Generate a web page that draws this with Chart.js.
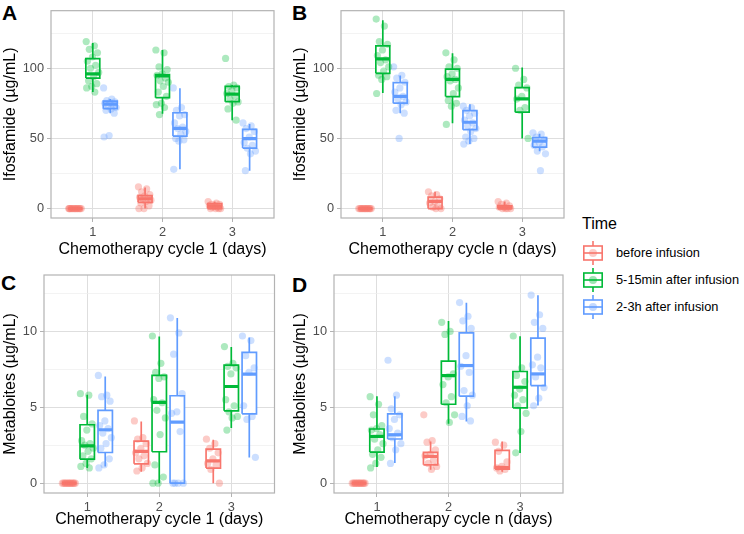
<!DOCTYPE html>
<html>
<head>
<meta charset="utf-8">
<script src="https://cdn.jsdelivr.net/npm/chart.js@4.4.1/dist/chart.umd.min.js"></script>
<style>
  body { margin: 0; background: #fff; width: 744px; height: 534px; position: relative; overflow: hidden;
         font-family: "Liberation Sans", Arial, sans-serif; }
  canvas { position: absolute; }
  .tag { position: absolute; font-weight: bold; font-size: 21px; line-height: 21px; color: #000; }
  .legend-title { position: absolute; left: 582px; top: 216px; font-size: 16px; line-height: 16px; }
  .legend-item { position: absolute; left: 582px; height: 24px; }
  .legend-item span { position: absolute; left: 34px; top: 4px; font-size: 12.8px; line-height: 16px; white-space: nowrap; }
</style>
</head>
<body>
<div class="tag" style="left:2px;top:2px">A</div>
<div class="tag" style="left:292px;top:2px">B</div>
<div class="tag" style="left:1px;top:272px">C</div>
<div class="tag" style="left:292px;top:274px">D</div>

<canvas id="pA" width="290" height="262" style="left:0;top:0"></canvas>
<canvas id="pB" width="290" height="262" style="left:290px;top:0"></canvas>
<canvas id="pC" width="290" height="272" style="left:0;top:262px"></canvas>
<canvas id="pD" width="290" height="272" style="left:290px;top:262px"></canvas>

<div class="legend-title">Time</div>
<div id="legend"></div>

<script>
// Categories and groups
const days = [1, 2, 3];
const groups = ['before infusion', '5-15min after infusion', '2-3h after infusion'];
const ifoTicks = [0, 25, 50, 75, 100, 125];
const metTicks = [0, 2.5, 5, 7.5, 10, 12.5];

// Box stats: [group][day] = [lower whisker, q1, median, q3, upper whisker]
// Points: [group][day] = measured values
const boxA = [
  [[0, 0, 0, 0, 0], [0, 4.5, 7, 9.3, 15], [0, 0, 1.8, 3.6, 5]],
  [[83, 93, 96, 106.8, 118], [67.6, 79, 94.6, 95.5, 113], [63, 76.2, 81.6, 87.1, 88]],
  [[68, 71.2, 74.4, 76.6, 78], [28, 51.7, 57.1, 68.3, 85.7], [27, 43.1, 49.9, 56.5, 60.3]]
];
const ptsA = [
  [[0, 0, 0, 0, 0, 0, 0, 0, 0, 0, 0, 0, 0, 0],
   [15.5, 14, 12, 10, 9, 8, 7, 7, 6, 5, 4, 2, 0, 0],
   [5, 4, 3, 3, 2, 2, 1, 1, 0, 0, 0, 0]],
  [[119, 116, 113.5, 111, 108, 105, 102, 100, 97, 94, 91, 89, 87, 86, 83],
   [113, 111, 101, 99, 96, 95, 93, 91, 90, 87, 83, 80, 75, 74, 72, 67],
   [107, 88, 87, 86, 84, 82, 80, 78, 76, 75, 71, 63]],
  [[86, 78, 77, 76, 75.5, 75, 74, 73, 72, 71, 70, 68, 52, 51],
   [86, 72, 70, 67, 66, 61, 58, 57, 55, 53, 50, 49, 48, 28],
   [61, 59, 57, 55, 51, 47, 45, 43, 41, 39, 27]]
];

const boxB = [
  [[0, 0, 0, 0, 0], [0, 0, 5.2, 8.2, 12], [0, 0, 0.5, 2, 5]],
  [[82.3, 96.4, 106.6, 115.9, 134.2], [60.8, 79.8, 92, 99.3, 110.7], [49.9, 68.7, 78.2, 86.2, 100.5]],
  [[68, 75.1, 80, 89.8, 94.8], [46, 56.2, 61.5, 69.8, 74.4], [40.8, 43.8, 48.1, 50.6, 53.3]]
];
const ptsB = [
  [[0, 0, 0, 0, 0, 0, 0, 0, 0, 0, 0, 0, 0],
   [12, 10, 9, 7, 5, 4, 2, 1, 0, 0],
   [5, 4, 3, 2, 1, 1, 0, 0, 0, 0]],
  [[135, 130, 119, 117, 113, 109, 106, 104, 101, 98, 95, 94, 92, 82],
   [111, 106, 101, 100, 96, 94, 92, 91, 86, 82, 77, 75, 73, 60],
   [100, 92, 88, 86, 80, 78, 72, 70, 50]],
  [[101, 95, 93, 90, 86, 83, 80, 78, 76, 74, 70, 68, 50],
   [73, 72, 70, 68, 66, 63, 61, 59, 57, 55, 51, 50, 48, 46],
   [54, 53, 51, 49, 47, 45, 44, 41, 39, 27]]
];

const boxC = [
  [[0, 0, 0, 0, 0], [0.75, 1.27, 2.09, 2.77, 4.07], [0, 0.99, 1.47, 2.24, 2.86]],
  [[0.99, 1.58, 2.46, 3.85, 5.82], [0, 2.07, 5.32, 7.1, 9.67], [3.63, 4.77, 6.37, 7.78, 8.97]],
  [[1.1, 2.02, 3.52, 4.79, 7.03], [0, 0, 4.02, 5.76, 10.88], [1.69, 4.57, 7.19, 8.62, 9.6]]
];
const ptsC = [
  [[0, 0, 0, 0, 0, 0, 0, 0, 0, 0, 0, 0, 0],
   [4.1, 3.0, 2.9, 2.6, 2.3, 2.0, 1.8, 1.6, 1.3, 1.0, 0.8],
   [2.9, 2.6, 2.3, 2.0, 1.6, 1.3, 1.2, 0.9, 0]],
  [[5.9, 5.8, 4.4, 3.9, 3.5, 2.8, 2.6, 2.5, 2.3, 2.1, 1.8, 1.6, 1.3, 1.1, 1.0],
   [9.7, 7.9, 7.3, 7.0, 6.9, 5.5, 5.3, 4.8, 4.3, 3.2, 1.2, 0.4, 0, 0],
   [9.0, 7.9, 7.7, 7.6, 7.2, 5.5, 5.1, 4.7, 4.4, 4.3, 3.5]],
  [[7.1, 5.8, 5.7, 5.4, 4.1, 3.8, 3.6, 3.3, 3.0, 2.6, 2.3, 1.6, 1.2, 1.0],
   [10.9, 9.9, 8.5, 5.9, 4.7, 4.6, 3.4, 0, 0, 0, 0],
   [9.7, 9.4, 8.4, 7.6, 7.3, 5.1, 4.4, 4.2, 1.7]]
];

const boxD = [
  [[0, 0, 0, 0, 0], [0.88, 1.21, 1.76, 2.03, 2.75], [0.75, 0.93, 1.04, 2.16, 2.75]],
  [[1.06, 2.05, 3.08, 3.57, 5.73], [3.92, 5.2, 7.09, 8.04, 10.68], [1.98, 4.96, 6.32, 7.36, 9.69]],
  [[1.32, 2.91, 3.19, 4.56, 5.73], [4.07, 5.73, 7.75, 9.91, 11.89], [5.11, 6.43, 7.2, 9.56, 12.38]]
];
const ptsD = [
  [[0, 0, 0, 0, 0, 0, 0, 0, 0, 0, 0, 0, 0],
   [4.5, 2.8, 2.7, 2.2, 1.9, 1.8, 1.5, 1.3, 1.1, 0.9],
   [2.7, 2.5, 2.1, 1.4, 1.1, 1.0, 0.9, 0.8]],
  [[5.7, 5.2, 4.5, 3.8, 3.6, 3.5, 3.2, 2.9, 2.6, 2.2, 1.9, 1.7, 1.3, 1.0],
   [10.6, 10.0, 9.8, 7.2, 7.0, 6.5, 5.7, 5.3, 4.5, 4.0],
   [9.7, 7.6, 7.1, 6.7, 6.2, 5.8, 5.5, 5.1, 4.6, 3.4, 2.0]],
  [[8.1, 5.8, 4.9, 4.5, 4.2, 3.6, 3.3, 3.0, 2.6, 2.2, 1.3],
   [11.9, 11.0, 10.7, 10.2, 8.4, 7.7, 7.3, 6.1, 5.8, 5.1, 4.4, 4.1],
   [12.4, 11.1, 10.6, 10.2, 8.3, 7.8, 7.6, 7.0, 6.3, 5.6, 5.1]]
];

// Styles
const FONT = '"Liberation Sans", Arial, sans-serif';
const colors = ['#F8766D', '#00BA38', '#619CFF'];
const pointColors = ['rgba(248,118,109,0.38)', 'rgba(0,186,56,0.32)', 'rgba(97,156,255,0.32)'];
const dodge = [-0.25, 0, 0.25];
const halfBox = 0.1;

// spread points sideways a little, like geom_jitter
function jitter(i) {
  return (((i * 0.6180339) % 1) - 0.5) * 0.19;
}

function buildDatasets(box, pts) {
  const sets = [];
  for (let g = 0; g < groups.length; g++) {
    for (let d = 0; d < days.length; d++) {
      const [lw, q1, med, q3, uw] = box[g][d];
      const c = days[d] + dodge[g];
      const line = { showLine: true, pointRadius: 0, borderColor: colors[g], tension: 0 };
      sets.push(Object.assign({}, line, {
        data: [{x: c - halfBox, y: q1}, {x: c + halfBox, y: q1}, {x: c + halfBox, y: q3},
               {x: c - halfBox, y: q3}, {x: c - halfBox, y: q1}],
        borderWidth: 1.7, backgroundColor: '#fff', fill: 'shape', order: 3
      }));
      sets.push(Object.assign({}, line, {
        data: [{x: c, y: lw}, {x: c, y: q1}, {x: c, y: null}, {x: c, y: q3}, {x: c, y: uw}],
        borderWidth: 1.7, spanGaps: false, order: 2
      }));
      sets.push(Object.assign({}, line, {
        data: [{x: c - halfBox, y: med}, {x: c + halfBox, y: med}],
        borderWidth: 3.2, order: 2
      }));
      sets.push({
        data: pts[g][d].map((v, i) => ({x: c + jitter(i), y: v})),
        showLine: false, pointRadius: 3.6, pointHoverRadius: 3.6, borderWidth: 0,
        backgroundColor: pointColors[g], order: 0
      });
    }
  }
  return sets;
}

// panel border drawn on top, like theme_light
const borderPlugin = {
  id: 'panelBorder',
  afterDatasetsDraw(chart) {
    const a = chart.chartArea, ctx = chart.ctx;
    ctx.save();
    ctx.strokeStyle = '#B3B3B3';
    ctx.lineWidth = 1.2;
    ctx.strokeRect(a.left, a.top, a.right - a.left, a.bottom - a.top);
    ctx.restore();
  }
};

function makePanel(p) {
  const isMajor = v => Math.abs(v % p.major) < 1e-9;
  new Chart(document.getElementById(p.id), {
    type: 'scatter',
    data: { datasets: buildDatasets(p.box, p.pts) },
    plugins: [borderPlugin],
    options: {
      responsive: false,
      animation: false,
      devicePixelRatio: 1,
      layout: { padding: { top: p.padTop, right: p.padRight, left: 0, bottom: 0 } },
      plugins: { legend: { display: false }, tooltip: { enabled: false } },
      scales: {
        x: {
          type: 'linear', min: 0.4, max: 3.6,
          afterBuildTicks: s => { s.ticks = days.map(v => ({value: v})); },
          afterFit: s => { s.height = p.xh; },
          border: { display: false },
          grid: { color: '#DEDEDE', lineWidth: 1, tickLength: 4, tickColor: '#B3B3B3' },
          ticks: { color: '#4D4D4D', padding: 3, font: { family: FONT, size: 12.8 } },
          title: { display: true, text: p.xTitle, color: '#000', padding: { top: 0, bottom: p.xTitlePad },
                   font: { family: FONT, size: 16 } }
        },
        y: {
          type: 'linear', min: p.yMin, max: p.yMax,
          afterBuildTicks: s => { s.ticks = p.ticks.map(v => ({value: v})); },
          afterFit: s => { s.width = p.yw; },
          border: { display: false },
          grid: {
            color: ctx => isMajor(ctx.tick.value) ? '#DEDEDE' : '#EEEEEE',
            lineWidth: ctx => isMajor(ctx.tick.value) ? 1 : 0.7,
            tickLength: 4,
            tickColor: ctx => isMajor(ctx.tick.value) ? '#B3B3B3' : 'rgba(0,0,0,0)'
          },
          ticks: {
            color: '#4D4D4D', padding: 3, autoSkip: false, font: { family: FONT, size: 12.8 },
            callback: v => isMajor(v) ? String(v) : ''
          },
          title: { display: true, text: p.yTitle, color: '#000', padding: { top: 1.4, bottom: 0 },
                   font: { family: FONT, size: 16 } }
        }
      }
    }
  });
}

const panels = [
  { id: 'pA', box: boxA, pts: ptsA, ticks: ifoTicks, major: 50, yMin: -6.7, yMax: 141,
    xTitle: 'Chemotherapy cycle 1 (days)', yTitle: 'Ifosfamide (µg/mL)',
    yw: 51, xh: 44, padTop: 1, padRight: 16, xTitlePad: 2.4 },
  { id: 'pB', box: boxB, pts: ptsB, ticks: ifoTicks, major: 50, yMin: -6.7, yMax: 141,
    xTitle: 'Chemotherapy cycle n (days)', yTitle: 'Ifosfamide (µg/mL)',
    yw: 51, xh: 44, padTop: 1, padRight: 16, xTitlePad: 2.4 },
  { id: 'pC', box: boxC, pts: ptsC, ticks: metTicks, major: 5, yMin: -0.65, yMax: 13.72,
    xTitle: 'Chemotherapy cycle 1 (days)', yTitle: 'Metabloites (µg/mL)',
    yw: 44, xh: 41, padTop: 13, padRight: 15.5, xTitlePad: 4.4 },
  { id: 'pD', box: boxD, pts: ptsD, ticks: metTicks, major: 5, yMin: -0.65, yMax: 13.72,
    xTitle: 'Chemotherapy cycle n (days)', yTitle: 'Metabolites (µg/mL)',
    yw: 44, xh: 41, padTop: 13, padRight: 17, xTitlePad: 4.4 }
];
panels.forEach(makePanel);

// Legend keys
const legend = document.getElementById('legend');
const keyTops = [241, 268, 295];
groups.forEach((name, g) => {
  const c = colors[g];
  const item = document.createElement('div');
  item.className = 'legend-item';
  item.style.top = keyTops[g] + 'px';
  item.innerHTML =
    '<svg width="22" height="24" style="position:absolute;left:0;top:0">' +
    `<line x1="11" y1="0" x2="11" y2="5" stroke="${c}" stroke-width="1.6"/>` +
    `<line x1="11" y1="19" x2="11" y2="24" stroke="${c}" stroke-width="1.6"/>` +
    `<rect x="1.8" y="5" width="18.4" height="14" fill="#fff" stroke="${c}" stroke-width="1.6"/>` +
    `<line x1="1.8" y1="12" x2="20.2" y2="12" stroke="${c}" stroke-width="1.6"/>` +
    `<circle cx="11" cy="12" r="4" fill="${c}" fill-opacity="0.38"/>` +
    '</svg>' +
    `<span>${name}</span>`;
  legend.appendChild(item);
});
</script>
</body>
</html>
